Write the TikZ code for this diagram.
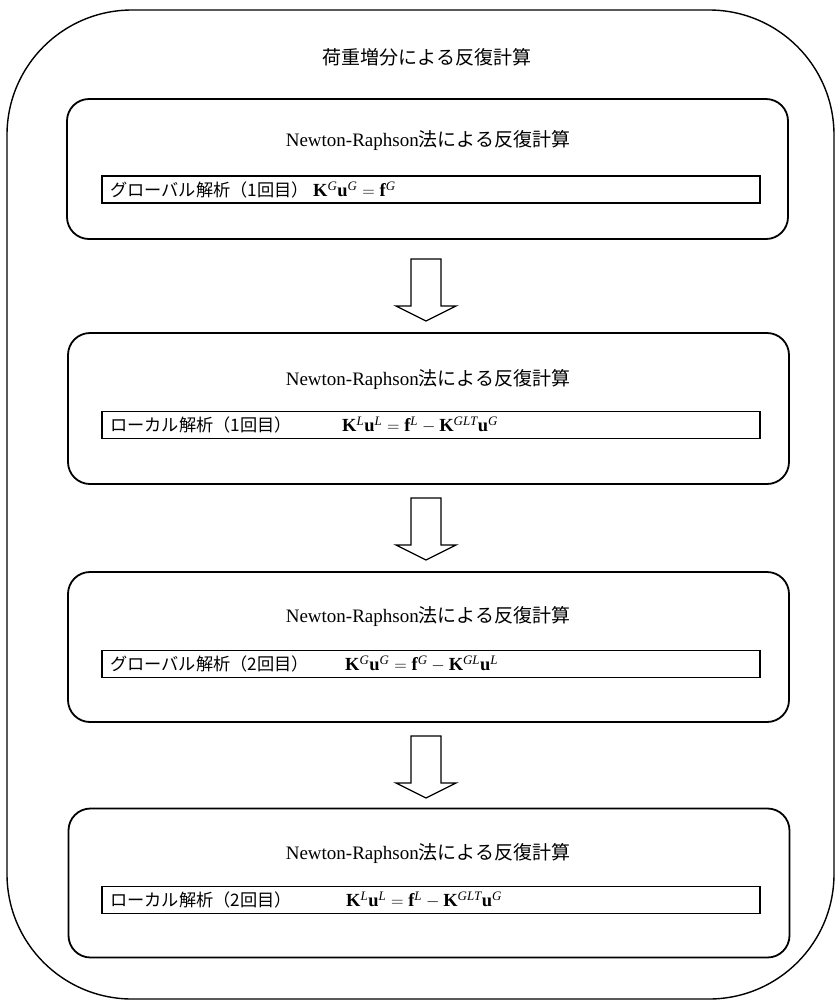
\documentclass[tikz,border=0pt]{standalone}
\usepackage{fontspec}
\setmainfont{Liberation Serif}
\setmathrm{Liberation Serif}
\newfontfamily\jp{Noto Sans CJK JP}
\usetikzlibrary{calc}
\begin{document}
\begin{tikzpicture}[x=1pt,y=-1pt,
  outer/.style={draw, line width=1.4pt, rounded corners=125pt, minimum width=827pt, minimum height=989pt, inner sep=0},
  box/.style={draw, line width=1.8pt, rounded corners=22pt, minimum width=721pt, inner sep=0},
  eqbox/.style={draw, line width=1.3pt, minimum width=658pt, minimum height=27pt, inner sep=0},
  ttl/.style={font=\fontsize{19}{22}\selectfont, inner sep=0},
  lbl/.style={font=\fontsize{17.2}{20}\selectfont, inner sep=0, anchor=west},
  eqn/.style={font=\fontsize{18.5}{20}\selectfont, inner sep=0, anchor=west},
  blk/.style={draw, line width=1.3pt, fill=white, line join=miter},
  blockarrow/.pic={\draw[blk] (-15,0) -- (15,0) -- (15,47) -- (30,47) -- (0,62) -- (-30,47) -- (-15,47) -- cycle;}]
\useasboundingbox (0,0) rectangle (838,1005);
\node[outer] (frame) at (420.5,504.5) {};
\node[ttl] (t0) at (427,57) {\jp 荷重増分による反復計算};
% box 1
\node[box, minimum height=140pt] (b1) at (427.5,169) {};
\node[ttl] (t1) at (428,140) {Newton-Raphson{\jp 法による反復計算}};
\node[eqbox] (r1) at (431,189.5) {};
\node[lbl] (l1) at (110,189.5) {\jp グローバル解析（1回目）};
\node[eqn] (e1) at (313,189.5) {$\mathbf{K}^{\mathit{G}}\mathbf{u}^{\mathit{G}}=\mathbf{f}^{\mathit{G}}$};
\pic at (426,259) {blockarrow};
% box 2
\node[box, minimum height=151pt] (b2) at (428.5,408.5) {};
\node[ttl] (t2) at (428,379) {Newton-Raphson{\jp 法による反復計算}};
\node[eqbox] (r2) at (431,425) {};
\node[lbl] (l2) at (110,425) {\jp ローカル解析（1回目）};
\node[eqn] (e2) at (342,425) {$\mathbf{K}^{\mathit{L}}\mathbf{u}^{\mathit{L}}=\mathbf{f}^{\mathit{L}}-\mathbf{K}^{\mathit{GLT}}\mathbf{u}^{\mathit{G}}$};
\pic at (426,498) {blockarrow};
% box 3
\node[box, minimum height=150pt] (b3) at (428.5,647) {};
\node[ttl] (t3) at (428,616) {Newton-Raphson{\jp 法による反復計算}};
\node[eqbox] (r3) at (431,664) {};
\node[lbl] (l3) at (110,664) {\jp グローバル解析（2回目）};
\node[eqn] (e3) at (345,664) {$\mathbf{K}^{\mathit{G}}\mathbf{u}^{\mathit{G}}=\mathbf{f}^{\mathit{G}}-\mathbf{K}^{\mathit{GL}}\mathbf{u}^{\mathit{L}}$};
\pic at (426,736) {blockarrow};
% box 4
\node[box, minimum height=149pt] (b4) at (429,883) {};
\node[ttl] (t4) at (428,853) {Newton-Raphson{\jp 法による反復計算}};
\node[eqbox] (r4) at (431,900) {};
\node[lbl] (l4) at (110,900) {\jp ローカル解析（2回目）};
\node[eqn] (e4) at (346,900) {$\mathbf{K}^{\mathit{L}}\mathbf{u}^{\mathit{L}}=\mathbf{f}^{\mathit{L}}-\mathbf{K}^{\mathit{GLT}}\mathbf{u}^{\mathit{G}}$};
\end{tikzpicture}
\end{document}
